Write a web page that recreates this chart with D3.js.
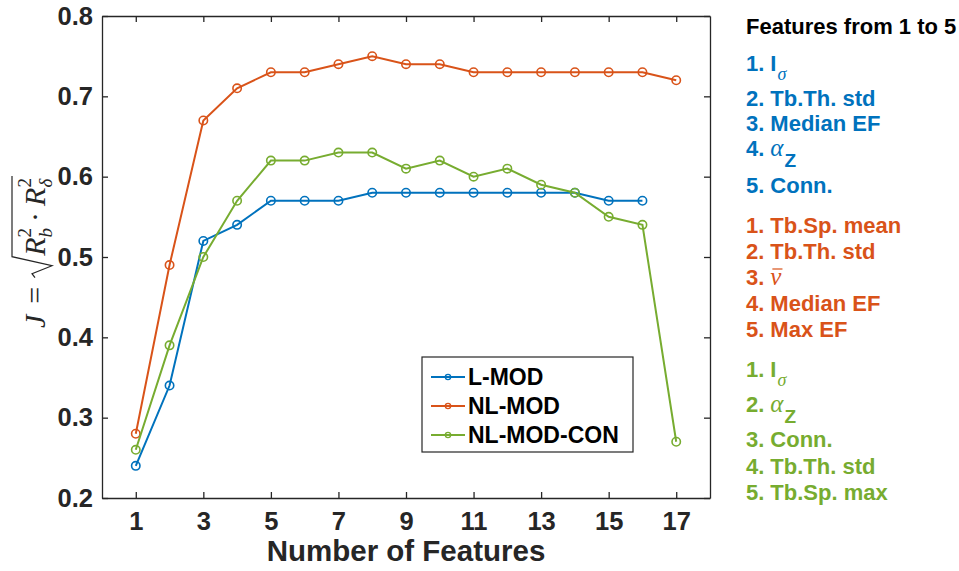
<!DOCTYPE html>
<html>
<head>
<meta charset="utf-8">
<script src="https://cdn.jsdelivr.net/npm/d3@7"></script>
<style>
  body { margin: 0; background: #fff; }
  svg { font-family: "Liberation Sans", Arial, sans-serif; }
</style>
</head>
<body>
<svg id="chart" width="959" height="571"></svg>
<script>
// number of features on the x axis
const features = [1, 2, 3, 4, 5, 6, 7, 8, 9, 10, 11, 12, 13, 14, 15, 16, 17];

// J values per model
const lMod     = [0.24, 0.34, 0.52, 0.54, 0.57, 0.57, 0.57, 0.58, 0.58, 0.58, 0.58, 0.58, 0.58, 0.58, 0.57, 0.57];
const nlMod    = [0.28, 0.49, 0.67, 0.71, 0.73, 0.73, 0.74, 0.75, 0.74, 0.74, 0.73, 0.73, 0.73, 0.73, 0.73, 0.73, 0.72];
const nlModCon = [0.26, 0.39, 0.50, 0.57, 0.62, 0.62, 0.63, 0.63, 0.61, 0.62, 0.60, 0.61, 0.59, 0.58, 0.55, 0.54, 0.27];

const seriesNames = ["L-MOD", "NL-MOD", "NL-MOD-CON"];
const xTicks = [1, 3, 5, 7, 9, 11, 13, 15, 17];
const yTicks = [0.2, 0.3, 0.4, 0.5, 0.6, 0.7, 0.8];

// first five selected features, [name, subscript]
const lModFeatures     = [["I", "σ"], ["Tb.Th. std"], ["Median EF"], ["α", "Z"], ["Conn."]];
const nlModFeatures    = [["Tb.Sp. mean"], ["Tb.Th. std"], ["ν\u0304"], ["Median EF"], ["Max EF"]];
const nlModConFeatures = [["I", "σ"], ["α", "Z"], ["Conn."], ["Tb.Th. std"], ["Tb.Sp. max"]];

document.addEventListener("DOMContentLoaded", () => {
    const colors = ["#0072BD", "#D95319", "#77AC30"];
    const axisColor = "#262626";
    const serif = "'Liberation Serif', 'DejaVu Serif', serif";
    const left = 102, right = 710, top = 16, bottom = 498;

    const svg = d3.select("#chart");

    const x = d3.scaleLinear().domain([0, 18]).range([left, right]);
    const y = d3.scaleLinear().domain([0.2, 0.8]).range([bottom, top]);

    // axes, MATLAB style box with ticks pointing in
    const styleAxis = g => {
        g.selectAll("path, line").attr("stroke", axisColor).attr("stroke-width", 1.3);
        g.selectAll("text").attr("fill", axisColor).style("font-size", "25.5px").style("font-weight", "bold");
    };

    svg.append("g")
        .attr("transform", `translate(0, ${bottom})`)
        .call(d3.axisBottom(x).tickValues(xTicks).tickSizeInner(-6).tickSizeOuter(0).tickPadding(14))
        .call(styleAxis);

    svg.append("g")
        .attr("transform", `translate(0, ${top})`)
        .call(d3.axisTop(x).tickValues(xTicks).tickSizeInner(-6).tickSizeOuter(0).tickFormat(""))
        .call(styleAxis);

    svg.append("g")
        .attr("transform", `translate(${left}, 0)`)
        .call(d3.axisLeft(y).tickValues(yTicks).tickSizeInner(-6).tickSizeOuter(0).tickPadding(9).tickFormat(d3.format(".1f")))
        .call(styleAxis);

    svg.append("g")
        .attr("transform", `translate(${right}, 0)`)
        .call(d3.axisRight(y).tickValues(yTicks).tickSizeInner(-6).tickSizeOuter(0).tickFormat(""))
        .call(styleAxis);

    svg.selectAll(".domain").attr("fill", "none");

    // lines + open circle markers
    const allSeries = [lMod, nlMod, nlModCon];
    const line = d3.line().x((d, i) => x(features[i])).y(d => y(d));

    allSeries.forEach((vals, s) => {
        svg.append("path")
            .datum(vals)
            .attr("d", line)
            .attr("fill", "none")
            .attr("stroke", colors[s])
            .attr("stroke-width", 2);

        svg.selectAll(null)
            .data(vals)
            .enter()
            .append("circle")
            .attr("cx", (d, i) => x(features[i]))
            .attr("cy", d => y(d))
            .attr("r", 4.2)
            .attr("fill", "none")
            .attr("stroke", colors[s])
            .attr("stroke-width", 1.6);
    });

    // legend
    const legend = svg.append("g");
    legend.append("rect")
        .attr("x", 422).attr("y", 357)
        .attr("width", 211).attr("height", 95)
        .attr("fill", "#fff")
        .attr("stroke", axisColor)
        .attr("stroke-width", 1.2);

    seriesNames.forEach((name, i) => {
        const ly = 377 + i * 29;
        legend.append("line")
            .attr("x1", 431).attr("x2", 465)
            .attr("y1", ly).attr("y2", ly)
            .attr("stroke", colors[i]).attr("stroke-width", 2);
        legend.append("circle")
            .attr("cx", 448).attr("cy", ly).attr("r", 2.6)
            .attr("fill", "none").attr("stroke", colors[i]).attr("stroke-width", 1.4);
        legend.append("text")
            .attr("x", 468).attr("y", ly)
            .attr("dy", "0.36em")
            .style("font-size", "23px")
            .style("font-weight", "bold")
            .style("fill", "#000")
            .text(name);
    });

    // x axis title
    svg.append("text")
        .attr("x", 406)
        .attr("y", 561)
        .attr("text-anchor", "middle")
        .style("font-size", "29.5px")
        .style("font-weight", "bold")
        .style("fill", axisColor)
        .text("Number of Features");

    // y axis title: J = sqrt(R_b^2 . R_delta^2), built piece by piece
    const yLab = svg.append("g").attr("transform", "translate(45, 252) rotate(-90)");
    const lab = yLab.append("g");
    let cx = 0;
    const piece = (str, size, italic, dy, advance = true) => {
        const t = lab.append("text")
            .attr("x", cx).attr("y", dy)
            .style("font-family", serif)
            .style("font-style", italic ? "italic" : "normal")
            .style("font-size", size + "px")
            .style("fill", axisColor)
            .text(str);
        const w = t.node().getComputedTextLength();
        if (advance) cx += w;
        return w;
    };
    piece("J", 30, true, 0);
    cx += 11;
    piece("=", 30, false, 0);
    cx += 9;
    const radX = cx;
    cx += 22;
    piece("R", 30, true, 0);
    let w1 = piece("2", 19, false, -14, false);
    let w2 = piece("b", 19, true, 7, false);
    cx += Math.max(w1, w2) + 6;
    piece("·", 30, false, 0);
    cx += 6;
    piece("R", 30, true, 0);
    w1 = piece("2", 19, false, -14, false);
    w2 = piece("δ", 19, true, 7, false);
    cx += Math.max(w1, w2) + 2;
    lab.append("path")
        .attr("d", `M${radX},-10 L${radX + 4},-13 L${radX + 12},7 L${radX + 21},-33 L${cx},-33`)
        .attr("fill", "none")
        .attr("stroke", axisColor)
        .attr("stroke-width", 1.2);
    lab.attr("transform", `translate(${-cx / 2}, 0)`);

    // right side feature lists
    svg.append("text")
        .attr("x", 746).attr("y", 34)
        .style("font-size", "22px")
        .style("font-weight", "bold")
        .style("fill", "#000")
        .text("Features from 1 to 5");

    const drawList = (items, color, firstY, gaps) => {
        let ly = firstY;
        items.forEach((it, i) => {
            if (i > 0) ly += gaps[i - 1];
            let px = 746;
            const put = (str, opts) => {
                const t = svg.append("text")
                    .attr("x", px).attr("y", ly + (opts.dy || 0))
                    .style("fill", color)
                    .style("font-size", opts.size + "px")
                    .style("font-weight", opts.serif ? "normal" : "bold")
                    .style("font-style", opts.serif ? "italic" : "normal")
                    .style("font-family", opts.serif ? serif : null)
                    .text(str);
                const w = t.node().getComputedTextLength();
                px += w;
                return { t, w };
            };
            put(`${i + 1}.`, { size: 22 });
            px += 6;
            let name = it[0];
            const bar = name.includes("\u0304");
            name = name.replace("\u0304", "");
            const greek = /[α-ω]/.test(name);
            const startX = px;
            const m = put(name, { size: greek ? 25 : 22, serif: greek });
            if (bar) {
                svg.append("line")
                    .attr("x1", startX + 2).attr("x2", startX + m.w + 1)
                    .attr("y1", ly - 16).attr("y2", ly - 16)
                    .attr("stroke", color).attr("stroke-width", 1.2);
            }
            if (it[1]) {
                const subGreek = /[α-ω]/.test(it[1]);
                px += 1;
                put(it[1], { size: subGreek ? 18 : 19, serif: subGreek, dy: subGreek ? 9 : 11 });
            }
        });
    };

    drawList(lModFeatures, colors[0], 71, [35, 25, 25, 37]);
    drawList(nlModFeatures, colors[1], 233, [26, 26, 26, 26]);
    drawList(nlModConFeatures, colors[2], 377, [35, 35, 27, 26]);
});
</script>
</body>
</html>
